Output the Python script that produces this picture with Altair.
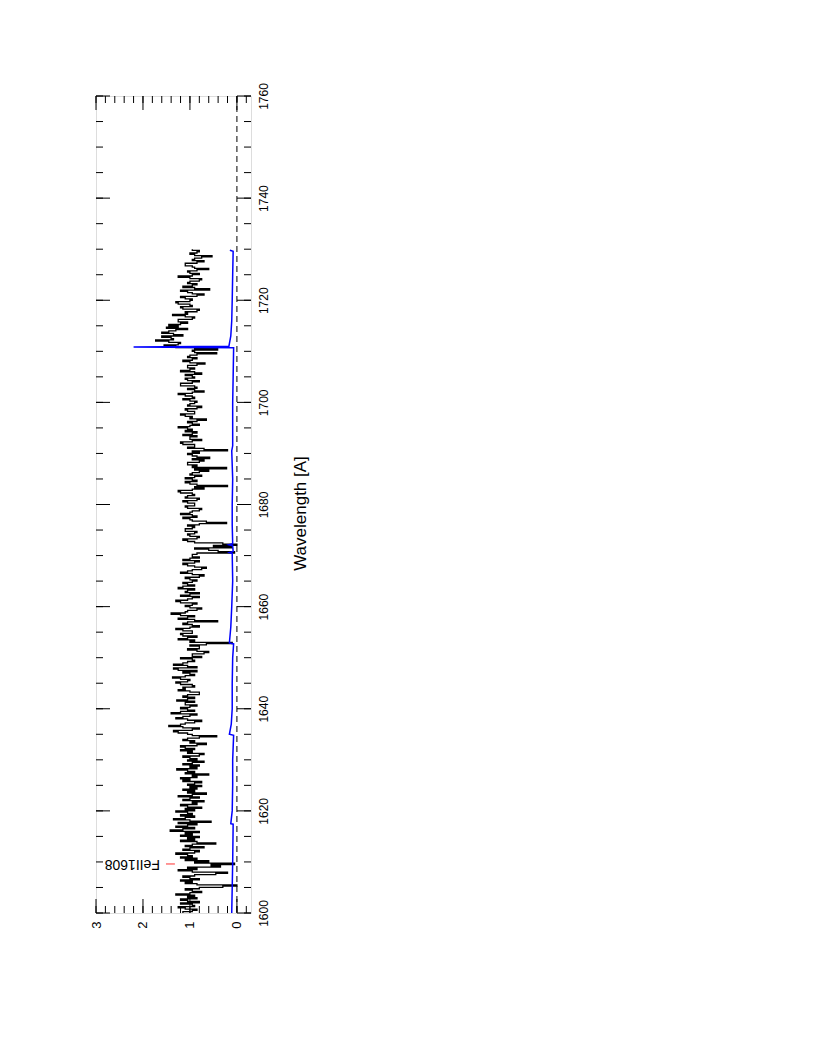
import altair as alt
import pandas as pd

# ---------------- data ----------------
# normalised flux in 0.25 A bins, one list per 5 A block (key = block start)
f1600 = [1.15,0.95,0.85,1.10,1.25,0.90,0.95,1.20,0.80,1.05, 1.20,0.85,1.05,0.90,1.30,1.00,0.75,0.95,1.10,0.80]
f1605 = [0.30,0.00,0.85,1.10,0.95,1.20,0.80,1.00,1.15,0.90, 0.45,0.20,0.95,1.25,0.85,1.05,0.35,0.55,0.05,0.90]
f1610 = [0.60,1.10,0.85,1.20,0.95,1.05,1.30,0.90,0.80,1.15, 1.00,0.70,1.10,0.95,0.45,0.85,1.20,0.90,1.05,0.80]
f1615 = [1.20,0.95,1.10,0.80,1.42,1.15,0.90,1.30,1.05,0.85, 1.25,0.55,1.00,1.35,1.10,0.90,1.20,0.95,1.05,1.30]
f1620 = [0.90,1.10,0.75,1.05,1.20,0.85,0.95,0.70,1.15,1.00, 0.80,1.25,0.95,0.65,1.05,0.90,1.15,0.85,1.00,0.75]
f1625 = [1.05,0.90,0.75,1.15,1.00,1.20,0.85,0.95,0.60,1.10, 0.90,1.05,1.28,0.85,1.00,0.80,1.15,0.95,0.70,1.05]
f1630 = [0.85,1.00,1.15,0.80,0.70,1.05,0.95,1.20,0.90,1.10, 1.20,0.85,0.65,1.00,0.90,1.15,1.05,0.80,0.43,0.95]
f1635 = [1.05,1.25,1.35,0.95,0.80,1.15,1.45,1.20,1.10,0.90, 0.75,1.05,1.30,1.15,1.00,0.85,1.40,1.20,0.90,1.05]
f1640 = [1.20,1.00,0.85,1.10,1.10,0.90,1.28,1.05,0.90,1.15, 1.05,0.80,0.80,1.00,1.25,1.10,1.15,0.90,0.95,1.20]
f1645 = [1.30,1.05,1.00,1.20,1.37,1.10,0.90,1.00,1.15,0.85, 1.25,1.35,0.85,1.05,1.35,1.15,1.05,0.90,0.95,1.20]
f1650 = [0.75,0.95,0.95,0.70,0.60,0.85,1.05,0.80,0.80,1.00, 0.65,0.10,1.00,0.90,1.25,1.05,0.85,1.15,1.20,0.95]
f1655 = [0.95,1.15,1.30,1.00,0.80,0.95,1.15,1.05,0.41,0.90, 1.25,1.05,0.90,1.20,1.40,1.10,1.05,0.85,0.75,1.00]
f1660 = [1.10,0.95,0.85,1.20,1.30,1.05,0.95,0.80,1.20,1.00, 0.80,1.10,1.05,0.90,1.25,1.15,0.90,1.05,1.15,0.95]
f1665 = [0.85,1.00,1.10,0.80,0.70,0.95,1.20,1.05,0.95,0.75, 0.65,0.90,1.05,1.15,0.90,0.80,1.15,1.00,0.80,0.95]
f1670 = [0.95,0.85,0.05,0.40,0.60,0.90,0.10,0.50,0.00,0.30, 0.90,1.05,1.15,0.85,0.80,1.00,1.05,0.90,0.85,1.10]
f1675 = [1.10,0.95,0.90,1.05,0.80,0.22,0.65,0.95,1.00,1.15, 0.85,0.95,1.20,1.00,0.95,0.80,0.75,1.05,1.10,0.90]
f1680 = [0.90,1.05,1.15,0.85,0.80,1.10,1.05,0.90,0.95,1.20, 1.25,0.95,0.70,0.90,0.20,0.85,1.00,1.10,0.85,0.95]
f1685 = [1.10,0.90,0.75,1.00,0.95,0.80,0.60,0.90,0.22,0.95, 0.85,1.05,1.05,0.80,0.70,0.95,0.58,0.85,0.95,1.05]
f1690 = [0.80,0.95,0.20,0.70,1.05,0.90,0.90,1.15,1.20,0.95, 0.75,1.00,1.00,0.85,1.15,0.95,0.85,1.10,0.95,1.05]
f1695 = [1.25,1.00,0.80,0.95,1.05,0.85,0.65,1.00,0.95,1.10, 1.20,0.90,0.90,1.05,1.10,0.85,0.75,1.05,1.00,0.90]
f1700 = [0.85,1.00,1.15,0.90,0.95,1.10,1.25,0.95,0.70,0.90, 1.05,0.85,0.90,1.20,1.20,0.95,0.80,1.05,1.10,0.90]
f1705 = [0.95,1.10,0.75,0.90,1.20,1.00,0.90,1.05,1.05,0.85, 0.68,1.00,1.15,0.95,0.85,1.05,1.00,0.85,0.43,0.90]
f1710 = [0.95,0.41,0.90,1.30,1.55,1.25,1.20,1.45,1.73,1.35, 1.40,1.60,1.15,1.35,1.60,1.45,1.30,1.05,1.50,1.25]
f1715 = [1.45,1.20,1.05,1.25,1.25,0.95,0.90,1.10,1.37,1.05, 1.10,0.85,0.80,1.15,1.20,0.95,1.00,1.25,1.30,1.00]
f1720 = [0.95,1.10,1.20,0.85,0.70,0.95,1.05,1.20,0.58,0.90, 1.15,0.95,0.85,1.05,1.00,0.80,0.75,1.00,1.25,0.95]
f1725 = [0.80,1.00,1.05,0.85,0.60,0.90,0.95,1.10,1.10,0.85, 0.70,0.95,0.90,0.75,0.53,0.90,1.00,0.85,0.80,0.95]

flux_blocks = [(1600, f1600), (1605, f1605), (1610, f1610), (1615, f1615),
               (1620, f1620), (1625, f1625), (1630, f1630), (1635, f1635),
               (1640, f1640), (1645, f1645), (1650, f1650), (1655, f1655),
               (1660, f1660), (1665, f1665), (1670, f1670), (1675, f1675),
               (1680, f1680), (1685, f1685), (1690, f1690), (1695, f1695),
               (1700, f1700), (1705, f1705), (1710, f1710), (1715, f1715),
               (1720, f1720), (1725, f1725)]
BLOCK = 5.0

# error spectrum
err_wave = [1600.0, 1605.0, 1610.0, 1617.4, 1617.5, 1620.0, 1625.0, 1630.0,
            1634.8, 1635.0, 1637.0, 1640.0, 1645.0, 1650.0, 1652.7, 1652.9,
            1656.0, 1660.0, 1665.0, 1670.4, 1670.6, 1670.8, 1671.9, 1672.1,
            1672.3, 1676.0, 1680.0, 1685.0, 1690.5, 1691.5, 1695.0, 1700.0,
            1705.0, 1710.7, 1710.85, 1711.0, 1713.0, 1716.0, 1720.0, 1725.0,
            1729.6, 1729.8]
err_flux = [0.11, 0.10, 0.09, 0.08, 0.13, 0.10, 0.09, 0.09,
            0.07, 0.16, 0.12, 0.10, 0.10, 0.09, 0.07, 0.16,
            0.13, 0.11, 0.09, 0.10, 0.16, 0.08, 0.09, 0.17,
            0.09, 0.10, 0.10, 0.09, 0.11, 0.09, 0.09, 0.09,
            0.08, 0.07, 2.20, 0.17, 0.13, 0.11, 0.10, 0.09,
            0.08, 0.15]

# axis ticks
wave_major = list(range(1600, 1761, 20))
wave_minor = list(range(1600, 1761, 5))
flux_major = [0, 1, 2, 3]
flux_minor = [-0.2, 0.0, 0.2, 0.4, 0.6, 0.8, 1.0, 1.2, 1.4, 1.6, 1.8, 2.0,
              2.2, 2.4, 2.6, 2.8, 3.0]
zero_level = [0.0]

# line identification
line_label = ["FeII1608"]
line_wave = [1609.6]
line_text_flux = [1.64]
line_tick_flux = [1.51]
line_tick_flux2 = [1.32]

# ---------------- tables ----------------
rows = []
k = 0
for start, vals in flux_blocks:
    step = BLOCK / len(vals)
    for i, f in enumerate(vals):
        lo = start + i * step
        rows.append({"w": lo, "f": f, "o": k}); k += 1
        rows.append({"w": lo + step, "f": f, "o": k}); k += 1
spec = pd.DataFrame(rows)
err = pd.DataFrame({"w": err_wave, "f": err_flux})

W, H = 155, 817
FONT = "Liberation Sans"

xs = alt.Scale(domain=[-0.3, 3], reverse=True, nice=False, zero=False)
ys = alt.Scale(domain=[1600, 1760], nice=False, zero=False)

xaxis = alt.Axis(values=flux_major, format="d", title=None, ticks=False,
                 domain=False, grid=False, labelAngle=270, labelAlign="right",
                 labelBaseline="middle", labelPadding=8, labelFontSize=13,
                 labelFont=FONT, labelColor="black", labelFlush=False,
                 labelOverlap=False, orient="bottom")
yaxis = alt.Axis(values=wave_major, format="d", title="Wavelength [A]",
                 ticks=False, domain=False, grid=False, orient="right",
                 labelAngle=270, labelAlign="center", labelBaseline="top",
                 labelPadding=7, labelFontSize=12, labelFont=FONT,
                 labelColor="black", labelFlush=False, labelOverlap=False,
                 titleAngle=270, titleFontSize=17, titleFont=FONT,
                 titleFontWeight="normal", titleColor="black",
                 titleBaseline="alphabetic", titleAlign="center",
                 titleX=54, titleY=417)

X = lambda fld: alt.X(fld, type="quantitative", scale=xs, axis=xaxis)
Y = lambda fld: alt.Y(fld, type="quantitative", scale=ys, axis=yaxis)

spectrum = alt.Chart(spec).mark_line(color="black", strokeWidth=1.3).encode(
    x=X("f"), y=Y("w"), order=alt.Order("o:Q"))

error = alt.Chart(err).mark_line(color="#0000ff", strokeWidth=1.5).encode(
    x=X("f"), y=Y("w"), order=alt.Order("w:Q"))

zero = alt.Chart(pd.DataFrame({"f": zero_level})).mark_rule(
    color="black", strokeWidth=1, strokeDash=[6, 4]).encode(x=X("f"))

def wave_ticks(vals, x0, x1):
    return alt.Chart(pd.DataFrame({"w": vals})).mark_rule(
        color="black", strokeWidth=1).encode(
        y=Y("w"), x=alt.value(x0), x2=alt.value(x1))

def flux_ticks(vals, y0, y1):
    return alt.Chart(pd.DataFrame({"f": vals})).mark_rule(
        color="black", strokeWidth=1).encode(
        x=X("f"), y=alt.value(y0), y2=alt.value(y1))

ticks = [
    wave_ticks(wave_minor, 0, 7), wave_ticks(wave_major, 0, 14),
    wave_ticks(wave_minor, W - 7, W), wave_ticks(wave_major, W - 14, W),
    flux_ticks(flux_minor, H - 7, H), flux_ticks(flux_major, H - 14, H),
    flux_ticks(flux_minor, 0, 7), flux_ticks(flux_major, 0, 14),
]

lab_df = pd.DataFrame({"label": line_label, "w": line_wave,
                       "ft": line_text_flux, "f1": line_tick_flux,
                       "f2": line_tick_flux2})
lab_tick = alt.Chart(lab_df).mark_rule(color="#ff3030", strokeWidth=1).encode(
    x=X("f1"), x2="f2", y=Y("w"))
lab_text = alt.Chart(lab_df).mark_text(
    angle=180, align="left", baseline="middle", fontSize=14, font=FONT,
    color="black").encode(x=X("ft"), y=Y("w"), text="label")

chart = alt.layer(spectrum, error, zero, *ticks, lab_tick, lab_text).properties(
    width=W, height=H,
    padding={"left": 88, "top": 88, "right": 150, "bottom": 60},
    autosize=alt.AutoSizeParams(type="none"),
).configure_view(stroke="black", strokeWidth=1.3).configure(background="white")

chart.save("out.html", embed_options={"renderer": "svg", "actions": False})
